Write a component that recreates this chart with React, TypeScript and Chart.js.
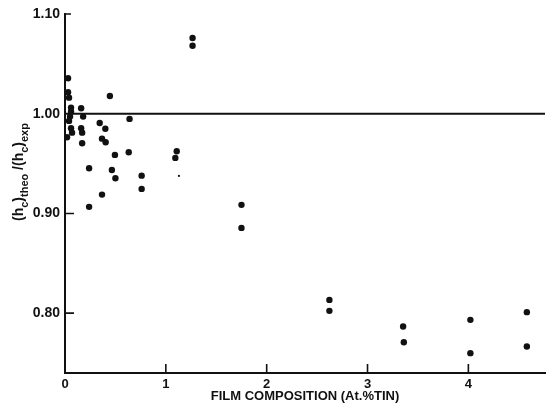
import React, { useEffect, useRef } from "react";
import { Chart, registerables } from "chart.js";

Chart.register(...registerables);

// Film composition (at.% tin) for each measurement
const compositionPct = [
  0.03, 0.03, 0.04, 0.06, 0.06, 0.05, 0.04, 0.06, 0.07, 0.02,
  0.16, 0.18, 0.16, 0.17, 0.17,
  0.445, 0.344, 0.40, 0.367, 0.403, 0.64, 0.495, 0.632, 0.239, 0.465,
  0.50, 0.76, 0.76, 0.367, 0.239,
  1.108, 1.094, 1.265, 1.265, 1.75, 1.75,
  2.622, 2.622, 3.353, 3.36, 4.02, 4.02, 4.58, 4.58,
];

// (hc)theo / (hc)exp ratio for each measurement
const hcRatio = [
  1.0356, 1.0215, 1.0161, 1.0061, 1.0021, 0.9971, 0.9928, 0.9854, 0.981, 0.9764,
  1.0055, 0.9971, 0.9854, 0.981, 0.9704,
  1.0178, 0.9907, 0.985, 0.975, 0.9714, 0.9948, 0.9587, 0.9614, 0.9453, 0.9436,
  0.9353, 0.9379, 0.9246, 0.9189, 0.9066,
  0.9624, 0.9557, 1.0759, 1.0682, 0.9086, 0.8855,
  0.8133, 0.8023, 0.7866, 0.7709, 0.7933, 0.7599, 0.801, 0.7665,
];

// faint small mark in the print
const speckX = [1.13];
const speckY = [0.9376];

const xTickValues = [0, 1, 2, 3, 4];
const yTickValues = [0.8, 0.9, 1.0, 1.1];
const referenceRatio = 1.0;
const xTitle = "FILM COMPOSITION (At.%TIN)";
const yTitleParts: [string, boolean][] = [
  ["(h", false],
  ["c", true],
  [")", false],
  ["theo", true],
  [" /(h", false],
  ["c", true],
  [")", false],
  ["exp", true],
];

const FONT = "'Liberation Sans', Arial, sans-serif";
const INK = "#111";

const decor = {
  id: "decor",
  afterDatasetsDraw(chart: any) {
    const { ctx, chartArea, scales } = chart;
    const x = scales.x;
    const y = scales.y;
    ctx.save();
    ctx.strokeStyle = INK;
    ctx.lineWidth = 2;
    const yr = y.getPixelForValue(referenceRatio);
    ctx.beginPath();
    ctx.moveTo(chartArea.left, yr);
    ctx.lineTo(chartArea.right, yr);
    ctx.stroke();

    ctx.lineWidth = 1.6;
    ctx.beginPath();
    yTickValues.forEach((v) => {
      if (v === referenceRatio) return;
      const p = y.getPixelForValue(v);
      ctx.moveTo(chartArea.left, p);
      ctx.lineTo(chartArea.left + (v > 1.05 ? 6 : 9), p);
    });
    xTickValues.forEach((v) => {
      if (v === 0) return;
      const p = x.getPixelForValue(v);
      ctx.moveTo(p, chartArea.bottom);
      ctx.lineTo(p, chartArea.bottom - 9);
    });
    ctx.stroke();

    // rotated y-axis title with subscripts
    ctx.translate(23, 221);
    ctx.rotate(-Math.PI / 2);
    ctx.fillStyle = INK;
    ctx.textBaseline = "alphabetic";
    ctx.textAlign = "left";
    let cx = 0;
    yTitleParts.forEach(([t, sub]) => {
      ctx.font = sub ? `bold 11px ${FONT}` : `bold 14px ${FONT}`;
      ctx.fillText(t, cx, sub ? 5 : 0);
      cx += ctx.measureText(t).width;
    });
    ctx.restore();
  },
};

export default function App() {
  const ref = useRef<HTMLCanvasElement | null>(null);

  useEffect(() => {
    const canvas = ref.current;
    if (!canvas) return;
    const chart = new Chart(canvas, {
      type: "scatter",
      data: {
        datasets: [
          {
            data: compositionPct.map((v, i) => ({ x: v, y: hcRatio[i] })),
            pointRadius: 3.2,
            pointHoverRadius: 3.2,
            backgroundColor: INK,
            borderColor: INK,
            borderWidth: 0,
          },
          {
            data: speckX.map((v, i) => ({ x: v, y: speckY[i] })),
            pointRadius: 1.1,
            backgroundColor: INK,
            borderColor: INK,
            borderWidth: 0,
          },
        ],
      },
      options: {
        animation: false,
        responsive: false,
        layout: { padding: { top: 14, left: 0, right: 0, bottom: 0 } },
        plugins: { legend: { display: false }, tooltip: { enabled: false } },
        scales: {
          x: {
            type: "linear",
            min: 0,
            max: 4.76,
            grid: { display: false, drawTicks: false },
            border: { display: true, color: INK, width: 2 },
            ticks: {
              color: INK,
              padding: 4,
              font: { family: FONT, size: 13, weight: "bold" },
              callback: (v: any) => String(v),
            },
            afterBuildTicks: (s: any) => {
              s.ticks = xTickValues.map((v) => ({ value: v }));
            },
            afterFit: (s: any) => {
              s.height = 31;
            },
            title: {
              display: true,
              text: xTitle,
              color: INK,
              font: { family: FONT, size: 13, weight: "bold" },
              padding: { top: 0, bottom: 0 },
            },
          },
          y: {
            type: "linear",
            min: 0.74,
            max: 1.1,
            grid: { display: false, drawTicks: false },
            border: { display: true, color: INK, width: 2 },
            ticks: {
              color: INK,
              padding: 5,
              font: { family: FONT, size: 14, weight: "bold" },
              callback: (v: any) => Number(v).toFixed(2),
            },
            afterBuildTicks: (s: any) => {
              s.ticks = yTickValues.map((v) => ({ value: v }));
            },
            afterFit: (s: any) => {
              s.width = 65;
            },
          },
        },
      },
      plugins: [decor],
    });
    return () => chart.destroy();
  }, []);

  return (
    <div style={{ position: "absolute", left: 0, top: 0, width: 549, height: 404, background: "#fff" }}>
      <canvas ref={ref} width={549} height={404} style={{ display: "block" }} />
    </div>
  );
}
